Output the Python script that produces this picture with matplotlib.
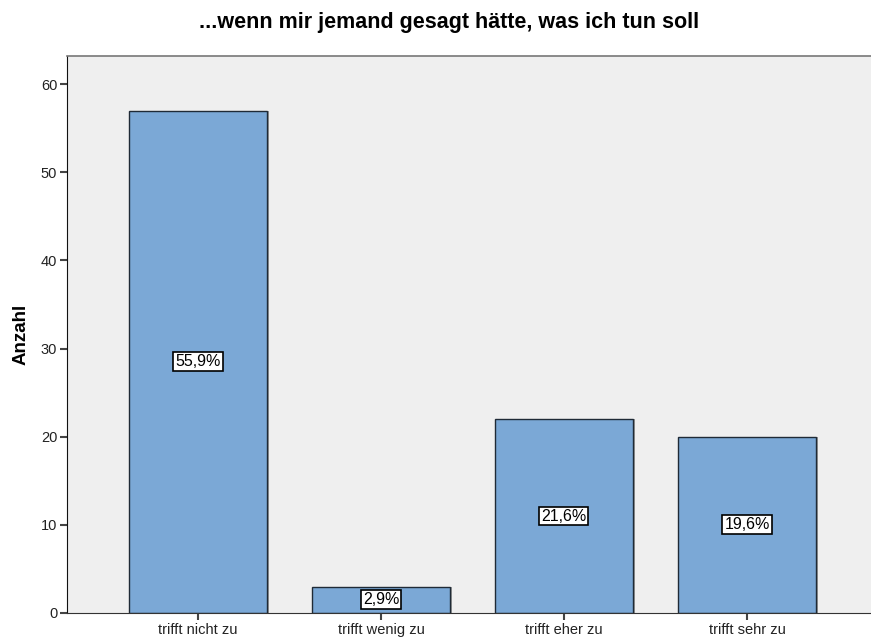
import numpy as np
import matplotlib.pyplot as plt

plt.rcParams["font.family"] = ["Liberation Sans", "DejaVu Sans"]

categories = ["trifft nicht zu", "trifft wenig zu", "trifft eher zu", "trifft sehr zu"]
counts = [57, 3, 22, 20]
percent_labels = ["55,9%", "2,9%", "21,6%", "19,6%"]

fig = plt.figure(figsize=(8.71, 6.39), dpi=100)
ax = fig.add_axes([0.0769, 0.0407, 0.9231, 0.8717])
ax.set_facecolor("#efefef")

x = np.arange(len(categories))
# slight gray shadow to the right of each bar, like the SPSS look
ax.bar(x + 0.012, counts, width=0.75, color="#9a9a9a", edgecolor="none", zorder=1)
ax.bar(x, counts, width=0.75, color="#7ba8d6", edgecolor="#1f2a36", linewidth=1.0, zorder=2)

for xi, c, lab in zip(x, counts, percent_labels):
    ax.text(xi, c / 2, lab, ha="center", va="center", fontsize=11.5, color="black", zorder=3,
            bbox=dict(boxstyle="square,pad=0.12", facecolor="white", edgecolor="black", linewidth=1.2))

ax.set_xlim(-0.716, 3.678)
ax.set_ylim(0, 63.2)
ax.set_xticks(x)
ax.set_xticklabels(categories, fontsize=10.5)
ax.set_yticks(range(0, 61, 10))
ax.tick_params(axis="both", direction="out", length=5, width=1.5, color="#444444", labelsize=10.5,
               labelcolor="#222222", pad=2)

ax.spines["right"].set_visible(False)
ax.spines["top"].set_color("#777777")
ax.spines["top"].set_linewidth(1.2)
ax.spines["left"].set_color("#111111")
ax.spines["bottom"].set_color("#333333")

ax.set_ylabel("Anzahl", fontsize=13.5, fontweight="bold", labelpad=8)
fig.text(0.515, 0.965, "...wenn mir jemand gesagt hätte, was ich tun soll", ha="center", va="center",
         fontsize=15.5, fontweight="bold")

fig.savefig("out.png", dpi=100)
